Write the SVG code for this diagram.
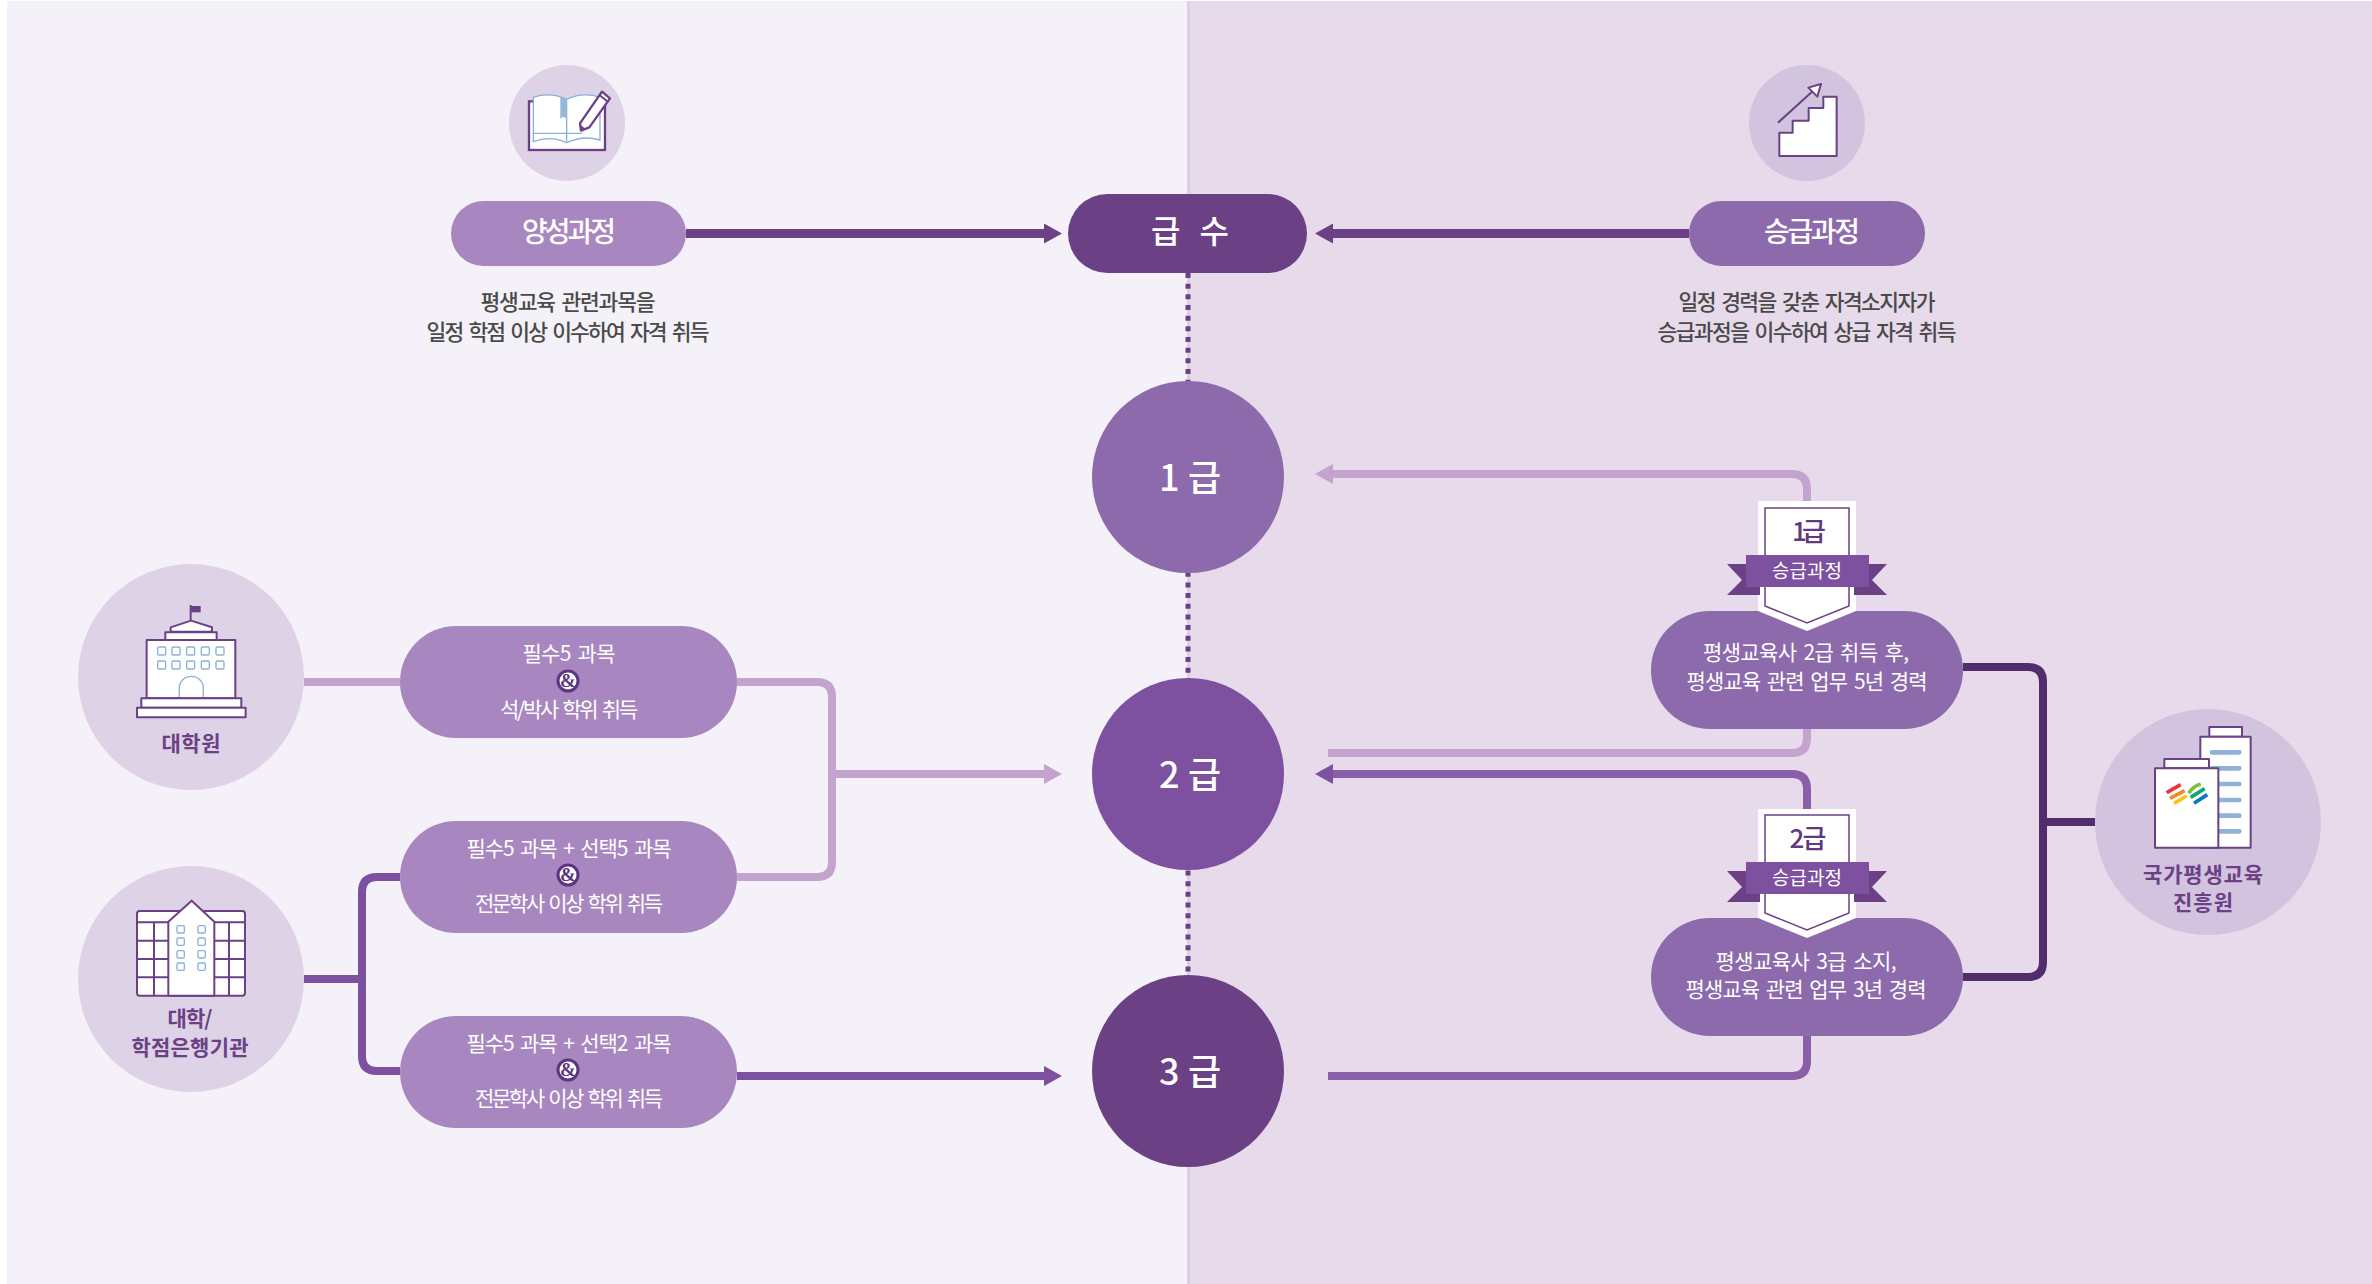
<svg xmlns="http://www.w3.org/2000/svg" width="2372" height="1284" viewBox="0 0 2372 1284">
<style>
text{font-family:"Noto Sans CJK KR","Noto Sans",sans-serif;text-anchor:middle}
.desc{font-size:21.500px;font-weight:500;fill:#4a4a4a;word-spacing:3px}
.head{font-size:28px;font-weight:500;fill:#fff}
.lvl{font-size:36px;font-weight:500;fill:#fff}
.pt{font-size:21px;fill:#fff;word-spacing:3px}
.lab{font-size:21px;font-weight:700;fill:#6b4085}
.bt{font-size:26px;font-weight:500;fill:#5f3a80}
.rt{font-size:19px;fill:#fff}
.amp{font-family:"Liberation Serif",serif;font-size:19px;font-weight:700;fill:#5c3580}
.ampc{fill:#fff;stroke:#5c3580;stroke-width:3}
.c{fill:none;stroke-width:8}
.light{stroke:#c4a4cf}
.mid{stroke:#8a5fa8}
.deep{stroke:#7d519f}
.dark{stroke:#6b4085}
.navy{stroke:#522d6e}
.ps{stroke:#6b4085;stroke-width:6;fill:#fff;stroke-linejoin:round}
.bl{stroke:#8bb1d6;stroke-width:4;fill:#fff}
</style>
<defs>
<marker id="aDark" markerUnits="userSpaceOnUse" markerWidth="18" markerHeight="20" refX="0" refY="10" orient="auto"><path d="M0 0L18 10L0 20Z" fill="#6b4085"/></marker>
<marker id="aLight" markerUnits="userSpaceOnUse" markerWidth="18" markerHeight="20" refX="0" refY="10" orient="auto"><path d="M0 0L18 10L0 20Z" fill="#c4a4cf"/></marker>
<marker id="aMid" markerUnits="userSpaceOnUse" markerWidth="18" markerHeight="20" refX="0" refY="10" orient="auto"><path d="M0 0L18 10L0 20Z" fill="#7d519f"/></marker>
<rect id="win" width="24" height="24" rx="4" class="bl"/>
<rect id="win2" width="22" height="22" rx="4" class="bl"/>
</defs>
<rect width="2372" height="1284" fill="#fff"/>
<rect x="7" y="1" width="1181" height="1283" fill="#f4f2f8"/>
<rect x="1187" y="1" width="1185" height="1283" fill="#e6daeb"/>
<rect x="1187" y="1" width="3" height="1283" fill="#ddd0e4"/>

<g id="connectors">
<path d="M1188 273V985" fill="none" stroke="#6b4085" stroke-width="5" stroke-dasharray="5 5.67"/>
<path d="M686 233.500H1044" class="c dark" style="stroke-width:9" marker-end="url(#aDark)"/>
<path d="M1689 233.500H1333" class="c dark" style="stroke-width:9" marker-end="url(#aDark)"/>
<path d="M304 682H400" class="c light"/>
<path d="M737 682H817Q832 682 832 697V862Q832 877 817 877H737" class="c light"/>
<path d="M832 774H1044" class="c light" marker-end="url(#aLight)"/>
<path d="M304 979H362" class="c deep"/>
<path d="M400 877H377Q362 877 362 892V1056Q362 1071 377 1071H400" class="c deep"/>
<path d="M737 1076H1044" class="c deep" marker-end="url(#aMid)"/>
<path d="M1807 510V489Q1807 474 1792 474H1333" class="c light" marker-end="url(#aLight)"/>
<path d="M1328 753H1792Q1807 753 1807 738V720" class="c light"/>
<path d="M1807 815V789Q1807 774 1792 774H1333" class="c mid" marker-end="url(#aMid)"/>
<path d="M1328 1076H1792Q1807 1076 1807 1061V1030" class="c mid"/>
<path d="M1963 667H2028Q2043 667 2043 682V962Q2043 977 2028 977H1963" class="c navy"/>
<path d="M2043 822H2095" class="c navy"/>
</g>

<g id="node-yangseong-icon">
<circle cx="567" cy="123" r="58" fill="#ded2e6"/>
<g transform="translate(400 40) scale(.3333)">
<rect x="387" y="184" width="228" height="146" fill="#fff" stroke="#6b4085" stroke-width="7"/>
<path d="M400 172Q450 155 500 178Q550 155 600 172V300Q550 285 500 308Q450 285 400 305Z" class="bl"/>
<path d="M400 280H545M500 178V305" class="bl" fill="none"/>
<path d="M481 170L500 178V236L490 230L481 236Z" fill="#94b8d9"/>
<path d="M606 155L630 175L568 262L543 272L540 250Z" class="ps" style="stroke-width:7"/>
<path d="M598 165L622 184" class="ps"/>
<path d="M543 272L541 255L557 266Z" fill="#6b4085"/>
</g>
</g>
<g id="node-yangseong">
<rect x="451" y="201" width="235" height="65" rx="32.500" fill="#a886bf"/>
<text class="head" x="569" y="242" textLength="94">양성과정</text>
<text class="desc" x="568" y="310" textLength="175">평생교육 관련과목을</text>
<text class="desc" x="568" y="340" textLength="283">일정 학점 이상 이수하여 자격 취득</text>
</g>

<g id="node-seunggeup-icon">
<circle cx="1807" cy="123" r="58" fill="#d2c3de"/>
<g transform="translate(1640 40) scale(.3333)">
<path d="M418 348V278H458V242H506V204H550V170H590V348Z" class="ps"/>
<path d="M414 248L522 150" fill="none" stroke="#6b4085" stroke-width="6"/>
<path d="M543 132L505 143L532 170Z" class="ps"/>
</g>
</g>
<g id="node-seunggeup">
<rect x="1689" y="201" width="236" height="65" rx="32.500" fill="#8c6aac"/>
<text class="head" x="1812" y="242" textLength="96">승급과정</text>
<text class="desc" x="1807" y="310" textLength="257">일정 경력을 갖춘 자격소지자가</text>
<text class="desc" x="1807" y="340" textLength="299">승급과정을 이수하여 상급 자격 취득</text>
</g>

<g id="node-geupsu">
<rect x="1068" y="194" width="239" height="79" rx="39.500" fill="#6b4085"/>
<text class="head" x="1190" y="243" textLength="78" style="font-size:32px">급 수</text>
</g>
<g id="node-grade1">
<circle cx="1188" cy="477" r="96" fill="#8c6aac"/>
<text class="lvl" x="1190" y="491" textLength="62">1 급</text>
</g>
<g id="node-grade2">
<circle cx="1188" cy="774" r="96" fill="#7d519f"/>
<text class="lvl" x="1190" y="788" textLength="62">2 급</text>
</g>
<g id="node-grade3">
<circle cx="1188" cy="1071" r="96" fill="#6b4085"/>
<text class="lvl" x="1190" y="1085" textLength="62">3 급</text>
</g>

<g id="node-gradschool">
<circle cx="191" cy="677" r="113" fill="#ded2e6"/>
<g transform="translate(60 550) scale(.3333)">
<path d="M392 212V165" stroke="#6b4085" stroke-width="6"/>
<rect x="392" y="168" width="30" height="19" fill="#6b4085"/>
<path d="M332 245V232L393 212L456 232V245Z" class="ps"/>
<rect x="316" y="247" width="154" height="23" class="ps"/>
<rect x="260" y="270" width="266" height="175" class="ps"/>
<use href="#win" x="293" y="291"/><use href="#win" x="336" y="291"/><use href="#win" x="380" y="291"/><use href="#win" x="424" y="291"/><use href="#win" x="468" y="291"/>
<use href="#win" x="293" y="333"/><use href="#win" x="336" y="333"/><use href="#win" x="380" y="333"/><use href="#win" x="424" y="333"/><use href="#win" x="468" y="333"/>
<path d="M358 442V415A36 36 0 0 1 430 415V442" class="bl"/>
<rect x="244" y="445" width="300" height="28" class="ps"/>
<rect x="231" y="473" width="326" height="29" class="ps"/>
</g>
<text class="lab" x="191" y="751" textLength="59">대학원</text>
</g>

<g id="node-university">
<circle cx="191" cy="979" r="113" fill="#ded2e6"/>
<g transform="translate(60 850) scale(.3333)">
<rect x="231" y="183" width="324" height="254" rx="8" class="ps"/>
<path d="M231 217H555M231 272H555M231 327H555M231 382H555M282 217V437M507 217V437" fill="none" stroke="#6b4085" stroke-width="6"/>
<path d="M325 437V215L395 152L463 215V437Z" class="ps"/>
<use href="#win2" x="351" y="227"/><use href="#win2" x="414" y="227"/><use href="#win2" x="351" y="264"/><use href="#win2" x="414" y="264"/><use href="#win2" x="351" y="302"/><use href="#win2" x="414" y="302"/><use href="#win2" x="351" y="339"/><use href="#win2" x="414" y="339"/>
</g>
<text class="lab" x="190" y="1026" textLength="45">대학/</text>
<text class="lab" x="190" y="1055" textLength="117">학점은행기관</text>
</g>

<g id="node-pill-a">
<rect x="400" y="626" width="337" height="112" rx="56" fill="#a886bf"/>
<text class="pt" x="569" y="661" textLength="93">필수5 과목</text>
<circle cx="568" cy="681" r="10" class="ampc"/><text class="amp" x="568" y="687">&amp;</text>
<text class="pt" x="569" y="717" textLength="138">석/박사 학위 취득</text>
</g>
<g id="node-pill-b">
<rect x="400" y="821" width="337" height="112" rx="56" fill="#a886bf"/>
<text class="pt" x="569" y="856" textLength="205">필수5 과목 + 선택5 과목</text>
<circle cx="568" cy="875" r="10" class="ampc"/><text class="amp" x="568" y="881">&amp;</text>
<text class="pt" x="569" y="911" textLength="188">전문학사 이상 학위 취득</text>
</g>
<g id="node-pill-c">
<rect x="400" y="1016" width="337" height="112" rx="56" fill="#a886bf"/>
<text class="pt" x="569" y="1051" textLength="205">필수5 과목 + 선택2 과목</text>
<circle cx="568" cy="1070" r="10" class="ampc"/><text class="amp" x="568" y="1076">&amp;</text>
<text class="pt" x="569" y="1106" textLength="188">전문학사 이상 학위 취득</text>
</g>

<g id="node-req1">
<rect x="1651" y="611" width="312" height="118" rx="59" fill="#8c6aac"/>
<path d="M1758 501H1856V611L1807 631L1758 611Z" fill="#fff"/>
<path d="M1765 508H1849V606L1807 623L1765 606Z" fill="#fff" stroke="#6b4085" stroke-width="1.500"/>
<path d="M1727 564H1760V595H1727L1742 580ZM1887 564H1854V595H1887L1872 580Z" fill="#6b4085"/>
<rect x="1746" y="555" width="123" height="32" fill="#7d519f"/>
<text class="bt" x="1809" y="541" textLength="34">1급</text>
<text class="rt" x="1807" y="578" textLength="70">승급과정</text>
<text class="pt" x="1806" y="660" textLength="206">평생교육사 2급 취득 후,</text>
<text class="pt" x="1807" y="689" textLength="241">평생교육 관련 업무 5년 경력</text>
</g>
<g id="node-req2">
<rect x="1651" y="918" width="312" height="118" rx="59" fill="#8c6aac"/>
<path d="M1758 809H1856V918L1807 938L1758 918Z" fill="#fff"/>
<path d="M1765 815H1849V913L1807 930L1765 913Z" fill="#fff" stroke="#6b4085" stroke-width="1.500"/>
<path d="M1727 871H1760V902H1727L1742 887ZM1887 871H1854V902H1887L1872 887Z" fill="#6b4085"/>
<rect x="1746" y="862" width="123" height="32" fill="#7d519f"/>
<text class="bt" x="1808" y="848" textLength="37">2급</text>
<text class="rt" x="1807" y="885" textLength="70">승급과정</text>
<text class="pt" x="1806" y="969" textLength="181">평생교육사 3급 소지,</text>
<text class="pt" x="1806" y="997" textLength="241">평생교육 관련 업무 3년 경력</text>
</g>

<g id="node-nile">
<circle cx="2208" cy="822" r="113" fill="#d2c3de"/>
<g transform="translate(2080 700) scale(.3333)">
<rect x="388" y="81" width="98" height="29" class="ps"/>
<rect x="361" y="110" width="151" height="333" class="ps"/>
<path d="M396 157H478M396 205H478M396 252H478M396 300H478M396 347H478M396 394H478" stroke="#8fb2d6" stroke-width="14" stroke-linecap="round" fill="none"/>
<rect x="253" y="177" width="134" height="28" class="ps"/>
<rect x="225" y="205" width="190" height="238" class="ps"/>
<g fill="none" stroke-width="11" stroke-linecap="butt">
<path d="M260 278L302 254" stroke="#e8353d"/>
<path d="M270 295L314 272" stroke="#f08a24"/>
<path d="M282 310L320 288" stroke="#f9c31c"/>
<path d="M326 280Q340 258 362 252" stroke="#7fbf45"/>
<path d="M332 292L374 266" stroke="#13a76c"/>
<path d="M342 310L382 284" stroke="#0b78c2"/>
</g>
</g>
<text class="lab" x="2203" y="882" textLength="120">국가평생교육</text>
<text class="lab" x="2203" y="910" textLength="60">진흥원</text>
</g>
</svg>
